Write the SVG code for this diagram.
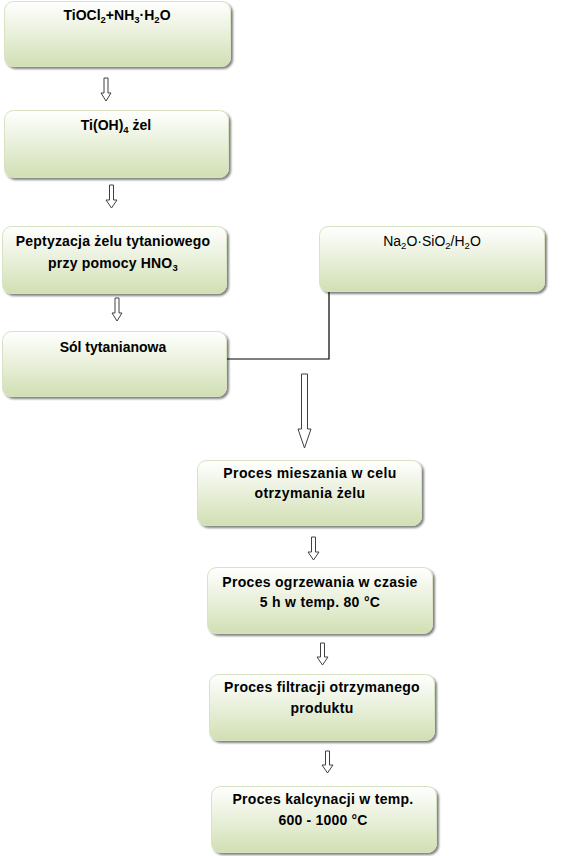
<svg xmlns="http://www.w3.org/2000/svg" width="568" height="856" viewBox="0 0 568 856">
<defs>
<linearGradient id="g" x1="0" y1="0" x2="0" y2="1">
<stop offset="0" stop-color="#ffffff"/>
<stop offset="0.55" stop-color="#e6eed6"/>
<stop offset="1" stop-color="#d1dfb3"/>
</linearGradient>
<filter id="sh" x="-5%" y="-5%" width="115%" height="125%">
<feGaussianBlur in="SourceAlpha" stdDeviation="1.2"/>
<feOffset dx="1.5" dy="2" result="b"/>
<feComponentTransfer><feFuncA type="linear" slope="0.5"/></feComponentTransfer>
<feMerge><feMergeNode/><feMergeNode in="SourceGraphic"/></feMerge>
</filter>
</defs>
<style>
.box{fill:url(#g);stroke:#d7e2c2;stroke-width:1;filter:url(#sh)}
.t{font-family:"Liberation Sans",Arial,sans-serif;font-weight:bold;font-size:14px;fill:#000;text-anchor:middle}
.n{font-weight:normal}
.s{font-size:9.5px}
.arr{fill:#fff;stroke:#404040;stroke-width:1}
.ln{fill:none;stroke:#000;stroke-width:1.2}
</style>
<rect width="568" height="856" fill="#fff"/>

<g id="n1"><rect class="box" x="4.5" y="1.5" width="226" height="65" rx="9"/>
<text class="t" x="117" y="20">TiOCl<tspan class="s" dy="3">2</tspan><tspan dy="-3">+NH</tspan><tspan class="s" dy="3">3</tspan><tspan dy="-3">·H</tspan><tspan class="s" dy="3">2</tspan><tspan dy="-3">O</tspan></text></g>

<g id="n2"><rect class="box" x="4.5" y="110.5" width="224" height="67" rx="9"/>
<text class="t" x="116" y="130">Ti(OH)<tspan class="s" dy="3">4</tspan><tspan dy="-3"> żel</tspan></text></g>

<g id="n3"><rect class="box" x="2.5" y="226.5" width="224" height="67" rx="9"/>
<text class="t" x="113" y="246" letter-spacing="0.2">Peptyzacja żelu tytaniowego</text>
<text class="t" x="113" y="268" letter-spacing="0.2">przy pomocy HNO<tspan class="s" dy="3">3</tspan></text></g>

<g id="n4"><rect class="box" x="2.5" y="331.5" width="224" height="65" rx="9"/>
<text class="t" x="113" y="352">Sól tytanianowa</text></g>

<g id="n5"><rect class="box" x="319.5" y="226.5" width="225" height="65" rx="9"/>
<text class="t n" x="432" y="246">Na<tspan class="s" dy="3">2</tspan><tspan dy="-3">O·SiO</tspan><tspan class="s" dy="3">2</tspan><tspan dy="-3">/H</tspan><tspan class="s" dy="3">2</tspan><tspan dy="-3">O</tspan></text></g>

<g id="n6"><rect class="box" x="197.5" y="460.5" width="224" height="65" rx="9"/>
<text class="t" x="310" y="478" letter-spacing="0.4">Proces mieszania w celu</text>
<text class="t" x="310" y="498" letter-spacing="0.4">otrzymania żelu</text></g>

<g id="n7"><rect class="box" x="207.5" y="567.5" width="225" height="66" rx="9"/>
<text class="t" x="320" y="587" letter-spacing="0.3">Proces ogrzewania w czasie</text>
<text class="t" x="320" y="607" letter-spacing="0.3">5 h w temp. 80 °C</text></g>

<g id="n8"><rect class="box" x="209.5" y="674.5" width="225" height="66" rx="9"/>
<text class="t" x="322" y="692" letter-spacing="0.3">Proces filtracji otrzymanego</text>
<text class="t" x="322" y="713" letter-spacing="0.3">produktu</text></g>

<g id="n9"><rect class="box" x="211.5" y="786.5" width="225" height="66" rx="9"/>
<text class="t" x="323" y="804" letter-spacing="0.3">Proces kalcynacji w temp.</text>
<text class="t" x="323" y="825" letter-spacing="0.2">600 - 1000 °C</text></g>

<g id="connectors">
<polyline class="ln" points="227,359 329,359 329,292"/>
<path class="arr" d="M104,78 H108 V93 H111 L106,101 L101,93 H104 Z"/>
<path class="arr" d="M109.5,185 H113.5 V200 H117 L111.5,208 L106,200 H109.5 Z"/>
<path class="arr" d="M115,298 H119 V313 H122 L117,321 L112,313 H115 Z"/>
<path class="arr" d="M301.5,374 H307.5 V429 H311 L304.5,448 L298,429 H301.5 Z"/>
<path class="arr" d="M311.5,537 H315.5 V552 H319 L313.5,560 L308,552 H311.5 Z"/>
<path class="arr" d="M320.5,643 H324.5 V657 H328 L322.5,665 L317,657 H320.5 Z"/>
<path class="arr" d="M325.5,751 H329.5 V765 H333 L327.5,773 L322,765 H325.5 Z"/>
</g>
</svg>
